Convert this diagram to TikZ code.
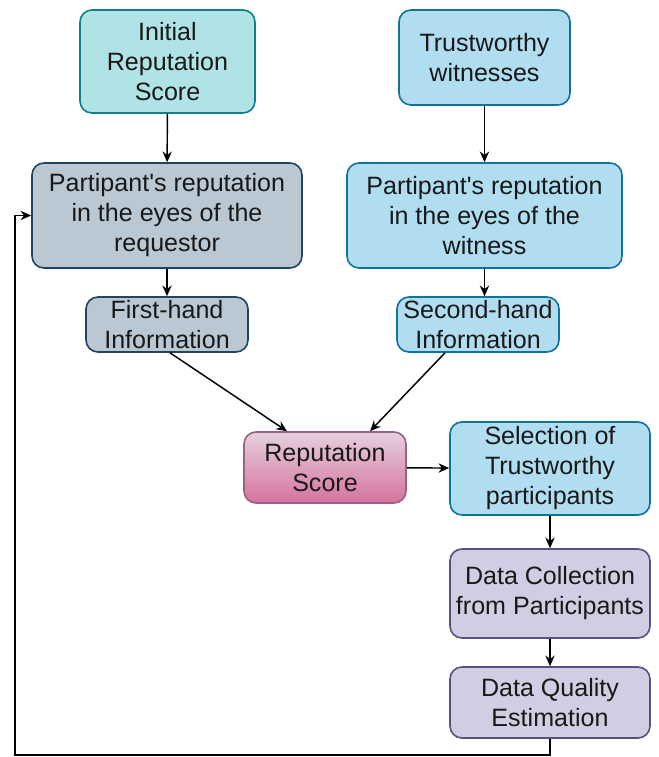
\documentclass[tikz,border=0pt]{standalone}
\usepackage{fontspec}
\setmainfont{Liberation Sans}[Ligatures=NoCommon]
\usetikzlibrary{arrows.meta}
\definecolor{tealF}{HTML}{B0E3E6}\definecolor{tealD}{HTML}{0E8088}
\definecolor{blueF}{HTML}{B1DDF0}\definecolor{blueD}{HTML}{10739E}
\definecolor{greyF}{HTML}{BAC8D3}\definecolor{greyD}{HTML}{23445D}
\definecolor{pinkT}{HTML}{E6D0DE}\definecolor{pinkB}{HTML}{D5739D}\definecolor{pinkD}{HTML}{996185}
\definecolor{purpF}{HTML}{D0CEE2}\definecolor{purpD}{HTML}{56517E}
\newcommand{\sq}{\textquotesingle}
\tikzset{
  box/.style={rectangle, rounded corners=9pt, line width=1.2pt, align=center,
    inner sep=0pt, font=\fontsize{18.8pt}{22.5pt}\selectfont, text=black!90},
  teal/.style={box, fill=tealF, draw=tealD},
  blue/.style={box, fill=blueF, draw=blueD},
  grey/.style={box, fill=greyF, draw=greyD},
  pink/.style={box, top color=pinkT, bottom color=pinkB, draw=pinkD},
  purp/.style={box, fill=purpF, draw=purpD},
  conn/.style={line width=1.1pt, -{Stealth[length=8pt,width=7pt]}},
}
\begin{document}
\begin{tikzpicture}[x=0.75pt,y=-0.75pt]
\useasboundingbox (0,0) rectangle (658,757);
\node[teal, minimum width=175*0.75pt, minimum height=103*0.75pt] (init) at (167.5,61.5) {Initial\\Reputation\\Score};
\node[blue, minimum width=171*0.75pt, minimum height=95*0.75pt] (tw) at (484.5,57.5) {Trustworthy\\witnesses};
\node[grey, minimum width=270*0.75pt, minimum height=105*0.75pt] (req) at (167,215.5) {Partipant\sq s reputation\\in the eyes of the\\requestor};
\node[blue, minimum width=275*0.75pt, minimum height=105*0.75pt] (wit) at (484.5,215.5) {Partipant\sq s reputation\\in the eyes of the\\witness};
\node[grey, minimum width=162*0.75pt, minimum height=55*0.75pt] (fh) at (167,324.5) {First-hand\\Information};
\node[blue, minimum width=162*0.75pt, minimum height=55*0.75pt] (sh) at (478,324.5) {Second-hand\\Information};
\node[pink, minimum width=162*0.75pt, minimum height=71*0.75pt] (rs) at (325,467.5) {Reputation\\Score};
\node[blue, minimum width=200*0.75pt, minimum height=93*0.75pt] (sel) at (550,468.5) {Selection of\\Trustworthy\\participants};
\node[purp, minimum width=200*0.75pt, minimum height=89*0.75pt] (dc) at (550,593.5) {Data Collection\\from Participants};
\node[purp, minimum width=200*0.75pt, minimum height=71*0.75pt] (dq) at (550,702.5) {Data Quality\\Estimation};
\coordinate (c1) at (550,755);
\coordinate (c2) at (15,755);
\coordinate (c3) at (15,215.5);
\draw[conn] (init) -- (req);
\draw[conn] (tw) -- (wit);
\draw[conn] (req) -- (fh);
\draw[conn] (wit.south -| tw.south) -- (sh.north -| tw.south);
\draw[conn] (fh.south) ++(3,0) -- ([xshift=-38*0.75pt]rs.north);
\draw[conn] ([xshift=-33*0.75pt]sh.south) -- ([xshift=45*0.75pt]rs.north);
\draw[conn] (rs) -- (sel);
\draw[conn] (sel) -- (dc);
\draw[conn] (dc) -- (dq);
\draw[conn] (dq.south) -- (c1) -- (c2) -- (c3) -- (req.west);
\end{tikzpicture}
\end{document}
